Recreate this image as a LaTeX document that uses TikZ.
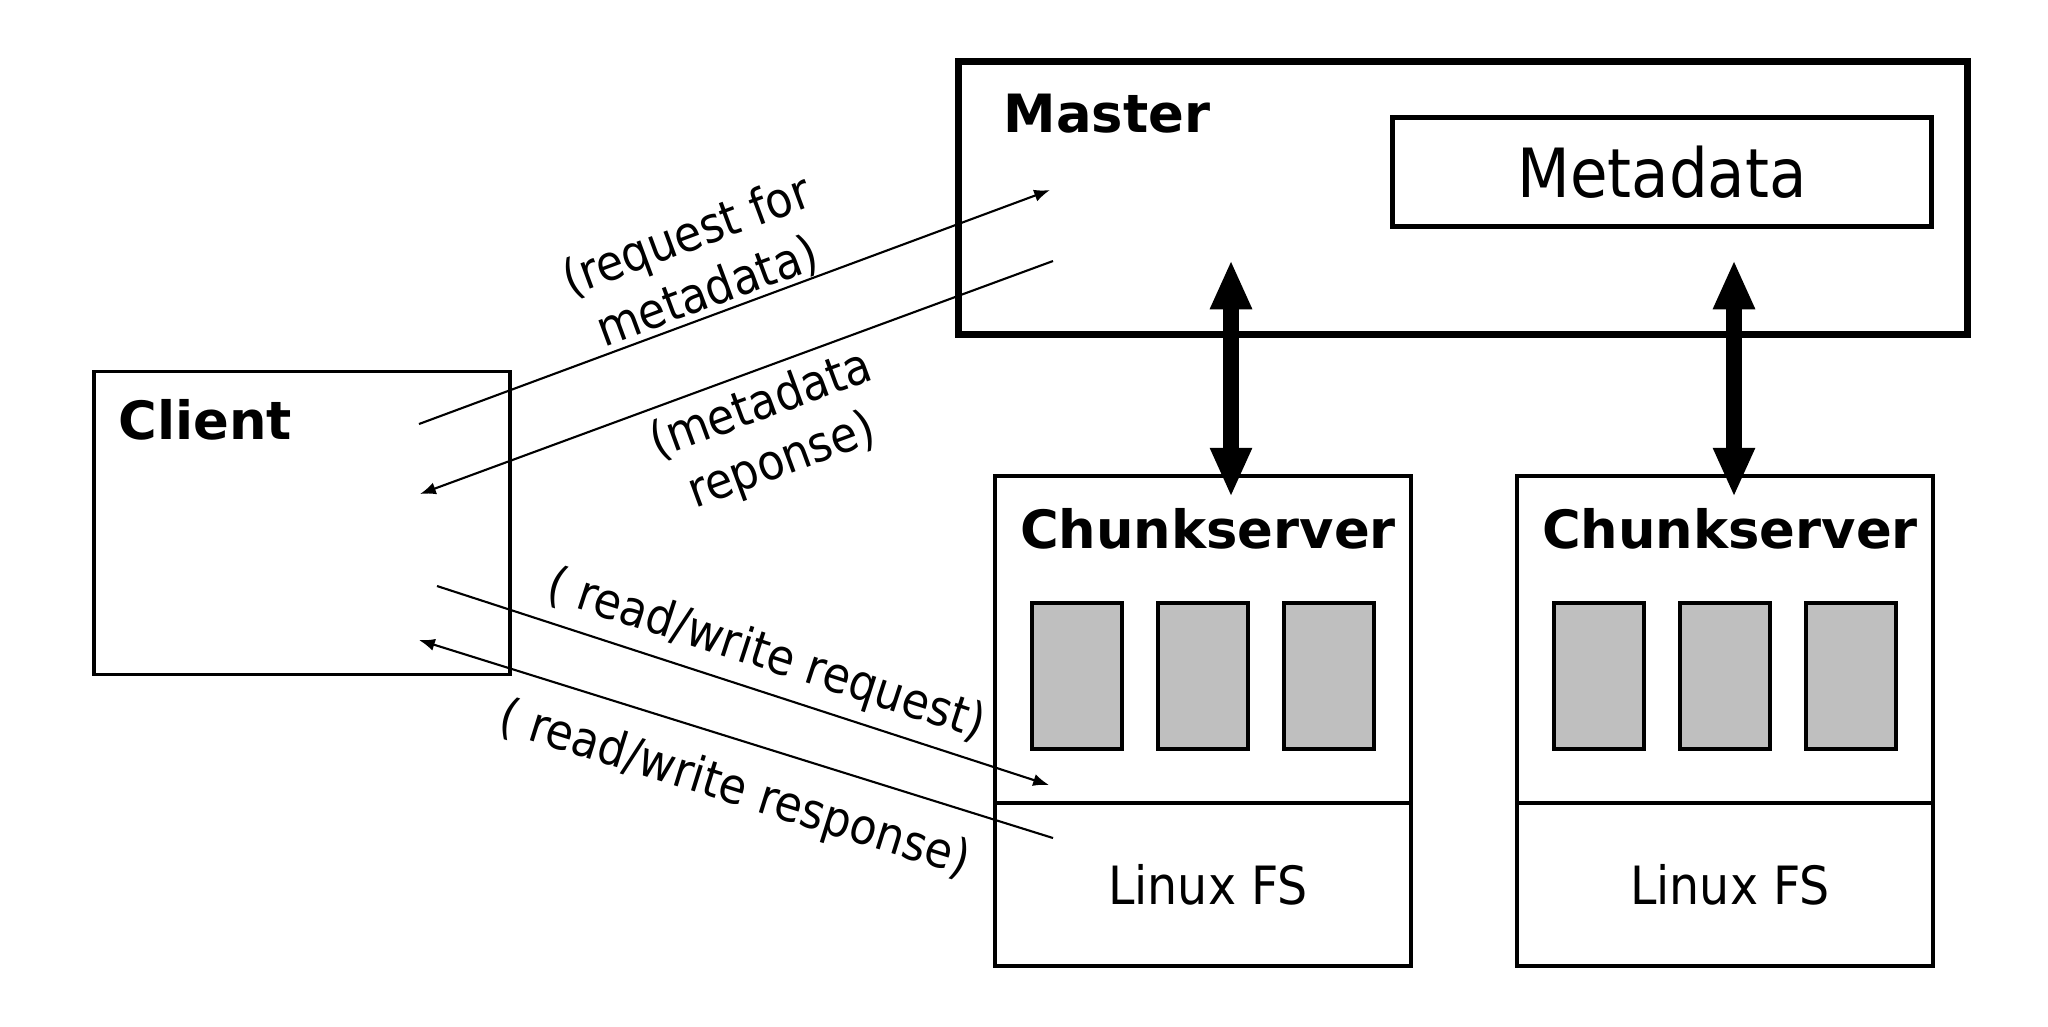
\documentclass[tikz,border=0pt]{standalone}
\usepackage{fontspec}
\setmainfont{DejaVu Sans}
\newfontfamily\condfont{DejaVu Sans Condensed}
\usetikzlibrary{arrows.meta,calc}

\begin{document}
\begin{tikzpicture}[x=0.01cm, y=-0.01cm,
    box/.style={draw, line width=1pt, inner sep=0pt, outer sep=0pt},
    chunk/.style={draw, line width=1.1pt, fill=black!25, inner sep=0pt, minimum width=0.9cm, minimum height=1.46cm},
    title/.style={font=\fontsize{15}{18}\selectfont\bfseries, inner sep=0pt},
    msg/.style={font=\condfont\fontsize{14}{17}\selectfont, sloped, align=center},
    link/.style={line width=0.6pt, -{Latex[length=4.5pt,width=3.5pt]}},
    bus/.style={line width=4.8pt, {Triangle[length=14pt,width=11pt]}-{Triangle[length=14pt,width=11pt]}}]
  \useasboundingbox (0,0) rectangle (2048,1026);

  % master
  \node[box, line width=2pt, minimum width=10.08cm, minimum height=2.72cm] (master) at (1463,198) {};
  \node[title, anchor=west] (mastertxt) at (1003,114) {Master};
  \node[box, line width=1.4pt, minimum width=5.39cm, minimum height=1.09cm,
        font=\condfont\fontsize{19.3}{22}\selectfont] (meta) at (1662,172) {Metadata};

  % client
  \node[box, minimum width=4.16cm, minimum height=3.03cm] (client) at (302,523) {};
  \node[title, anchor=west] (clienttxt) at (118,420) {Client};

  % chunkservers
  \foreach \n/\x in {cs1/1203, cs2/1725} {
    \node[box, minimum width=4.16cm, minimum height=4.9cm] (\n) at (\x,721) {};
    \draw[line width=1pt] (\n.west |- 0,803) -- (\n.east |- 0,803);
    \node[title] (\n-t) at ($(\n.north)+(5,53)$) {Chunkserver};
    \foreach \dx [count=\k] in {-126,0,126}
      \node[chunk] (\n-c\k) at ($(\n)+(\dx,-45)$) {};
    \node[font=\condfont\fontsize{15}{18}\selectfont] (\n-fs) at ($(\n)+(5,164)$) {Linux FS};
  }

  % master <-> chunkservers
  \coordinate (m1) at (1231,260);
  \coordinate (s1) at (1231,497);
  \coordinate (m2) at (1734,260);
  \coordinate (s2) at (1734,497);
  \draw[bus] (m1) -- (s1);
  \draw[bus] (m2) -- (s2);

  % client <-> master
  \coordinate (reqa) at (419,424);
  \coordinate (reqb) at (1050,190);
  \coordinate (respa) at (1053,261);
  \coordinate (respb) at (420,494);
  \draw[link] (reqa) -- node[msg, above, inner sep=0pt, pos=0.47] {(request for\\metadata)} (reqb);
  \draw[link] (respa) -- node[msg, below, inner sep=3pt, pos=0.48] {(metadata\\reponse)} (respb);

  % client <-> chunkserver
  \coordinate (rwa) at (437,586);
  \coordinate (rwb) at (1049,785);
  \coordinate (rwc) at (1053,838);
  \coordinate (rwd) at (419,640);
  \draw[link] (rwa) -- node[msg, above, inner sep=3pt, pos=0.52] {( read/write request)} (rwb);
  \draw[link] (rwc) -- node[msg, below, inner sep=7pt, pos=0.48] {( read/write response)} (rwd);
\end{tikzpicture}
\end{document}
